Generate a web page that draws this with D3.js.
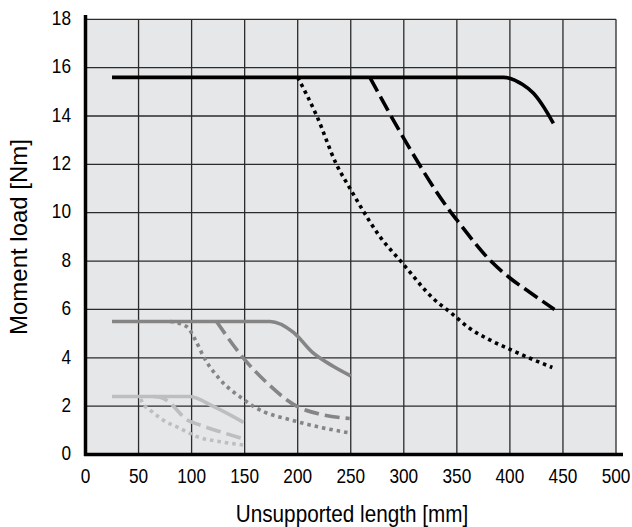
<!DOCTYPE html>
<html>
<head>
<meta charset="utf-8">
<script src="https://cdn.jsdelivr.net/npm/d3@7"></script>
<style>
  body { margin: 0; background: #fff; }
  svg { display: block; font-family: "Liberation Sans", Arial, sans-serif; }
</style>
</head>
<body>
<svg id="chart"></svg>
<script>
// tick values
const xTicks = [0, 50, 100, 150, 200, 250, 300, 350, 400, 450, 500];
const yTicks = [0, 2, 4, 6, 8, 10, 12, 14, 16, 18];

// curves: [length mm, moment Nm]
const blackSolid = [[25, 15.6], [394, 15.6], [412, 15.3], [422, 14.95], [430, 14.5], [441, 13.7]];
const blackDashed = [[268, 15.6], [299, 13.15], [343, 10.1], [350, 9.7], [382, 8.0], [400, 7.3], [419, 6.7], [442, 6.0]];
const blackDotted = [[200, 15.6], [218, 14.0], [236.5, 12.0], [250, 10.95], [260, 10.2], [276, 9.1], [299, 7.9],
  [327.5, 6.46], [345, 5.84], [362, 5.22], [381, 4.74], [400, 4.35], [419, 3.98], [440, 3.6]];

const darkSolid = [[25, 5.5], [174, 5.5], [196, 5.05], [214.5, 4.2], [233, 3.66], [250, 3.25]];
const darkDashed = [[123.5, 5.5], [148.6, 4.0], [170.6, 2.98], [199, 2.0], [221, 1.67], [249, 1.49]];
const darkDotted = [[80, 5.5], [95, 5.3], [104, 4.7], [111, 4.07], [126.6, 3.11], [148.6, 2.29], [158, 2.0],
  [199.5, 1.36], [248, 0.9]];

const lightSolid = [[25, 2.4], [98, 2.4], [120, 2.0], [149, 1.33]];
const lightDashed = [[64, 2.4], [72, 2.35], [80, 2.12], [95, 1.45], [108, 1.22], [130, 0.9], [149, 0.65]];
const lightDotted = [[52, 2.3], [54, 2.12], [61, 1.84], [73, 1.43], [89, 1.08], [105, 0.74], [127, 0.53], [149, 0.39]];

const W = 632, H = 527;
const marginLeft = 85.5, marginRight = 16, marginTop = 19.3, marginBottom = 72.5;

const svg = d3.select("#chart").attr("width", W).attr("height", H);

const x = d3.scaleLinear().domain([0, 500]).range([marginLeft, W - marginRight]);
const y = d3.scaleLinear().domain([0, 18]).range([H - marginBottom, marginTop]);

// plot background
svg.append("rect")
    .attr("x", x(0)).attr("y", y(18))
    .attr("width", x(500) - x(0)).attr("height", y(0) - y(18))
    .attr("fill", "#e6e7e8");

// grid
svg.append("g")
    .attr("stroke", "#2b2b2b").attr("stroke-width", 1.3)
  .selectAll("line.v")
  .data(xTicks.slice(1))
  .join("line")
    .attr("x1", d => x(d)).attr("x2", d => x(d))
    .attr("y1", y(0)).attr("y2", y(18));

svg.append("g")
    .attr("stroke", "#2b2b2b").attr("stroke-width", 1.3)
  .selectAll("line.h")
  .data(yTicks.slice(1))
  .join("line")
    .attr("x1", x(0)).attr("x2", x(500))
    .attr("y1", d => y(d)).attr("y2", d => y(d));

// curves
const line = d3.line()
    .x(d => x(d[0]))
    .y(d => y(d[1]))
    .curve(d3.curveMonotoneX);

const series = [
  { data: lightSolid, color: "#bdbebf", dash: null },
  { data: lightDashed, color: "#bdbebf", dash: "15,6" },
  { data: lightDotted, color: "#bdbebf", dash: "3.5,4" },
  { data: darkSolid, color: "#858585", dash: null },
  { data: darkDashed, color: "#858585", dash: "15,6" },
  { data: darkDotted, color: "#858585", dash: "3.5,4" },
  { data: blackSolid, color: "#000", dash: null },
  { data: blackDashed, color: "#000", dash: "16,6" },
  { data: blackDotted, color: "#000", dash: "3.5,4" },
];

svg.append("g")
    .attr("fill", "none")
  .selectAll("path")
  .data(series)
  .join("path")
    .attr("d", d => line(d.data))
    .attr("stroke", d => d.color)
    .attr("stroke-width", 3.6)
    .attr("stroke-dasharray", d => d.dash);

// axes
svg.append("line")
    .attr("x1", x(0)).attr("x2", x(0))
    .attr("y1", y(0) + 1.5).attr("y2", 15)
    .attr("stroke", "#000").attr("stroke-width", 3.5);
svg.append("line")
    .attr("x1", x(0) - 1.5).attr("x2", 623)
    .attr("y1", y(0)).attr("y2", y(0))
    .attr("stroke", "#000").attr("stroke-width", 3.5);

// tick labels (condensed by horizontal scaling)
svg.append("g")
    .attr("font-size", 21)
    .attr("text-anchor", "end")
  .selectAll("text")
  .data(yTicks)
  .join("text")
    .attr("transform", d => `translate(71,${y(d) - 1.8}) scale(0.82,1)`)
    .attr("dy", "0.36em")
    .text(d => d);

svg.append("g")
    .attr("font-size", 21)
    .attr("text-anchor", "middle")
  .selectAll("text")
  .data(xTicks)
  .join("text")
    .attr("transform", d => `translate(${x(d)},475.8) scale(0.82,1)`)
    .attr("dy", "0.36em")
    .text(d => d);

// axis titles
svg.append("text")
    .attr("transform", "translate(352,521.5) scale(0.9,1)")
    .attr("font-size", 23)
    .attr("text-anchor", "middle")
    .text("Unsupported length [mm]");

svg.append("text")
    .attr("transform", "translate(18,237) rotate(-90)")
    .attr("dy", "0.36em")
    .attr("font-size", 24)
    .attr("text-anchor", "middle")
    .text("Moment load [Nm]");
</script>
</body>
</html>
